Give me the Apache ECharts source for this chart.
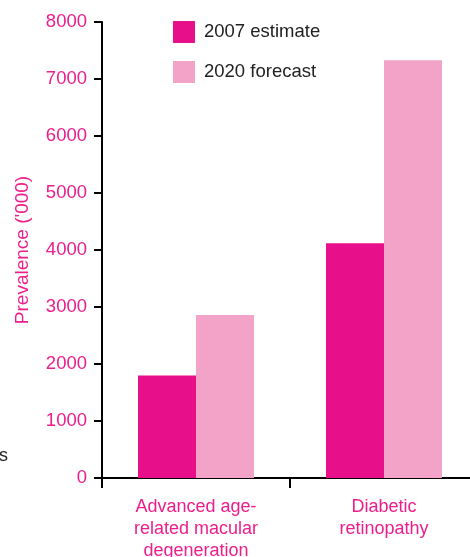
<!DOCTYPE html>
<html>
<head>
<meta charset="utf-8">
<script src="https://cdn.jsdelivr.net/npm/echarts@6/dist/echarts.min.js"></script>
<style>
  html, body { margin: 0; padding: 0; background: #fff; }
  #chart { width: 470px; height: 557px; }
</style>
</head>
<body>
<div id="chart"></div>
<script>
// categories and values ('000)
const categories = ['Advanced age-\nrelated macular\ndegeneration', 'Diabetic\nretinopathy']
const seriesNames = ['2007 estimate', '2020 forecast']
const estimate2007 = [1800, 4120]
const forecast2020 = [2860, 7330]
const yTicks = [0, 1000, 2000, 3000, 4000, 5000, 6000, 7000, 8000]

const pink = '#ec1e8c'
const dark = '#222'

const chart = echarts.init(document.getElementById('chart'))

const option = {
  animation: false,
  textStyle: { fontFamily: 'Liberation Sans, Arial, sans-serif' },
  grid: { left: 102, right: -8, top: 22, bottom: 79, outerBoundsMode: 'none', containLabel: false },
  legend: {
    data: seriesNames,
    orient: 'vertical',
    left: 168,
    top: 16,
    itemWidth: 22,
    itemHeight: 22,
    itemGap: 18,
    icon: 'rect',
    textStyle: { color: dark, fontSize: 18.5, padding: [0, 0, 0, 4] }
  },
  xAxis: {
    type: 'category',
    data: categories,
    axisLine: { lineStyle: { color: '#000', width: 2 } },
    axisTick: { show: true, length: 10, lineStyle: { color: '#000', width: 2 } },
    axisLabel: { color: pink, fontSize: 18, lineHeight: 22, margin: 18 }
  },
  yAxis: {
    type: 'value',
    min: yTicks[0],
    max: yTicks[yTicks.length - 1],
    interval: 1000,
    name: "Prevalence ('000)",
    nameLocation: 'middle',
    nameGap: 70,
    nameTextStyle: { color: pink, fontSize: 19 },
    axisLine: { show: true, lineStyle: { color: '#000', width: 2 } },
    axisTick: { show: true, length: 8, lineStyle: { color: '#000', width: 2 } },
    axisLabel: { color: pink, fontSize: 18.5, margin: 15, formatter: v => String(v) },
    splitLine: { show: false }
  },
  series: [
    {
      name: seriesNames[0],
      type: 'bar',
      data: estimate2007,
      barWidth: 58,
      barGap: 0,
      itemStyle: { color: '#e8108a' }
    },
    {
      name: seriesNames[1],
      type: 'bar',
      data: forecast2020,
      barWidth: 58,
      barGap: 0,
      itemStyle: { color: '#f4a3c8' }
    }
  ],
  graphic: [
    {
      type: 'text',
      left: -1,
      top: 447,
      style: { text: 's', fill: dark, fontSize: 18, fontFamily: 'Liberation Sans, Arial, sans-serif' }
    }
  ]
}

chart.setOption(option)
</script>
</body>
</html>
